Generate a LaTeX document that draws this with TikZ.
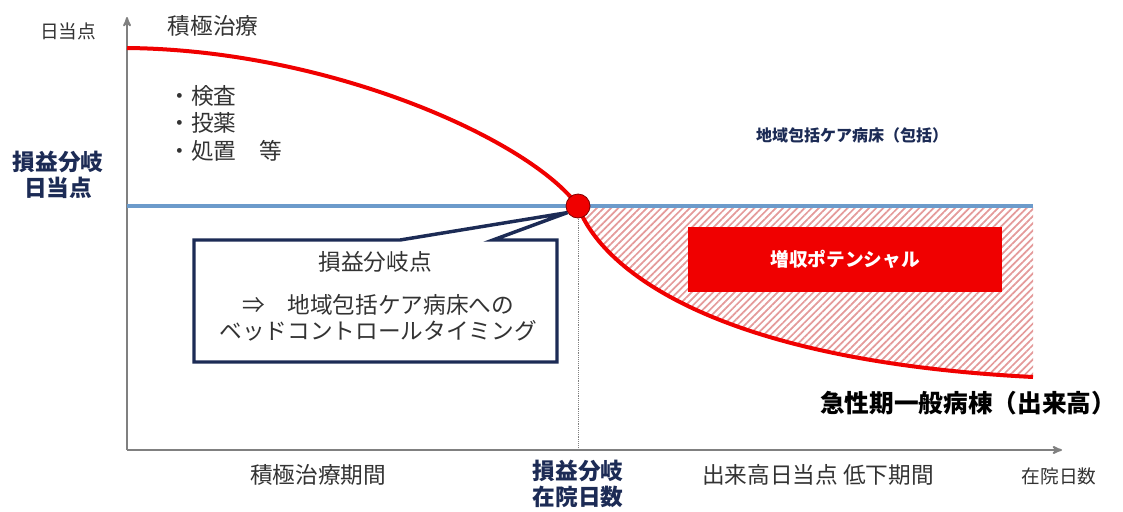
\documentclass[tikz,border=0pt]{standalone}
\usepackage{fontspec}
\setmainfont{Noto Sans CJK JP}
\usetikzlibrary{arrows,patterns.meta}

\definecolor{axisgray}{HTML}{808080}
\definecolor{lineblue}{HTML}{6C9BCB}
\definecolor{navy}{HTML}{1C2B55}
\definecolor{hatchred}{HTML}{E49A9A}
\definecolor{curvered}{HTML}{F00000}

\tikzset{
  axis/.style={->,draw=axisgray,line width=1.4pt},
  plain/.style={inner sep=0pt,text=black!80,font=\fontsize{17}{20}\selectfont},
  small/.style={plain,font=\fontsize{14}{17}\selectfont},
  navybold/.style={inner sep=0pt,text=navy,align=center,font=\fontsize{17}{19}\selectfont\bfseries},
  bubble/.style={draw=navy,fill=white,line width=2.6pt,line join=miter},
  dot/.style={circle,minimum size=18pt,inner sep=0pt},
}

\begin{document}
\begin{tikzpicture}[x=0.75pt,y=-0.75pt,>=stealth',semithick]
\useasboundingbox (0,0) rectangle (1123,511);

\coordinate (O)    at (127,450);
\coordinate (ytip) at (127,17);
\coordinate (xtip) at (1062,450);
\coordinate (bstart) at (127,206);
\coordinate (bend) at (1033,206);
\coordinate (cstart) at (127,48);
\coordinate (cend) at (1033,377);
\node[dot] (bep) at (578,206) {};

\fill[pattern={Lines[angle=45,distance=3.8pt,line width=1.3pt]},pattern color=hatchred]
  (bep.center) -- (bend) -- (cend) .. controls (700,360) and (598,262) .. (bep.center) -- cycle;

\draw[axis] (O) -- (ytip);
\draw[axis] (O) -- (xtip);
\draw[axisgray,densely dotted,thin] (bep.center) -- (bep.center |- O);
\draw[lineblue,line width=2.6pt] (bstart) -- (bend);
\draw[curvered,line width=3pt] (cstart) .. controls (330,50) and (530,140) .. (bep.center)
  .. controls (598,262) and (700,360) .. (cend);

\node[fill=curvered,minimum width=235.5pt,minimum height=48.75pt,inner sep=0pt] (gain) at (845,259.5) {};
\node[text=white,inner sep=0pt,font=\fontsize{14}{17}\selectfont\bfseries] (gaintxt) at (gain) {増収ポテンシャル};

\draw[bubble] (194,240) -- (400,240) -- (bep.212) -- (493,240) -- (557,240) -- (557,362) -- (194,362) -- cycle;
\node[plain] (bep1) at (375,262) {損益分岐点};
\node[plain] (bep2) at (378,305) {⇒　地域包括ケア病床への};
\node[plain] (bep3) at (378,331) {ベッドコントロールタイミング};

\node[dot,fill=curvered,draw=red!50!black,line width=0.6pt] (bepdot) at (bep) {};

\node[small] (yl) at (68,31) {日当点};
\node[plain] (act) at (213,26) {積極治療};
\node[plain,anchor=north west,align=left,font=\fontsize{17}{20.5}\selectfont] (items) at (168,85) {・検査\\・投薬\\・処置　等};
\node[navybold] (bepy) at (58,175) {損益分岐\\日当点};
\node[inner sep=0pt,text=navy,font=\fontsize{12}{14}\selectfont\bfseries] (hfc) at (852,135) {地域包括ケア病床（包括）};
\node[inner sep=0pt,text=black,font=\fontsize{18.5}{22}\selectfont\bfseries] (acute) at (968,403) {急性期一般病棟（出来高）};

\node[plain] (p1) at (318,475) {積極治療期間};
\node[navybold] (bepx) at (578,484) {損益分岐\\在院日数};
\node[plain] (p2) at (818,475) {出来高日当点 低下期間};
\node[small] (xl) at (1059,476) {在院日数};
\end{tikzpicture}
\end{document}
